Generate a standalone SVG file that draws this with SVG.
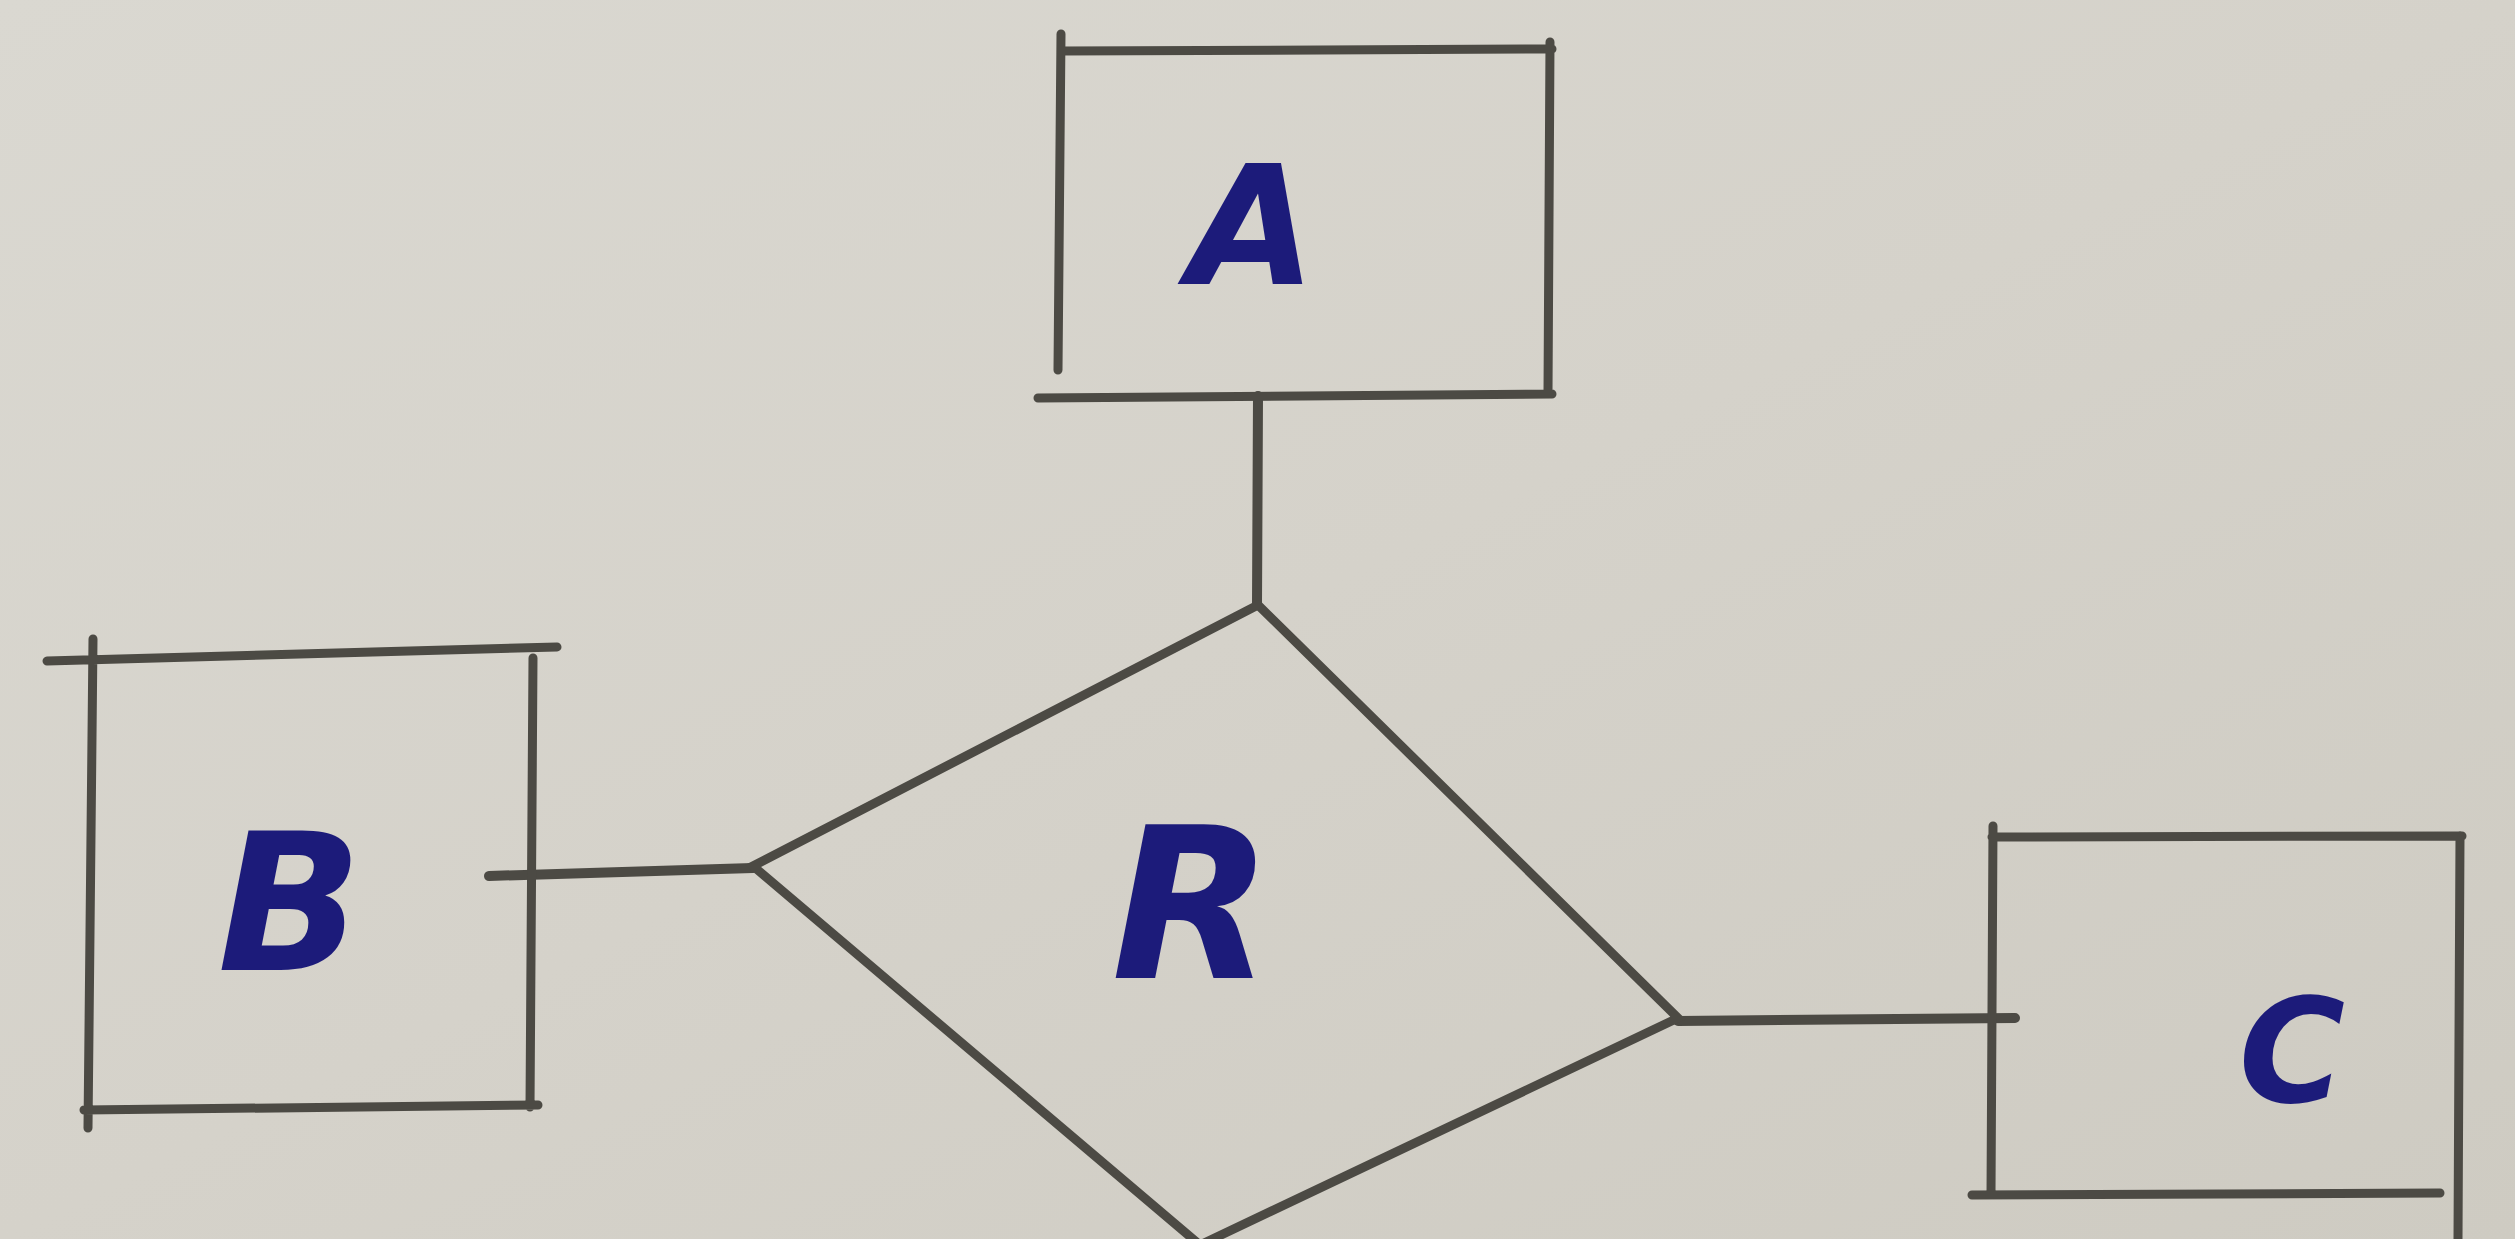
<svg xmlns="http://www.w3.org/2000/svg" width="2515" height="1239" viewBox="0 0 2515 1239">
<defs>
<linearGradient id="bg" x1="0" y1="0" x2="1" y2="1">
<stop offset="0" stop-color="#dad8d1"/>
<stop offset="0.5" stop-color="#d5d2ca"/>
<stop offset="1" stop-color="#cecbc2"/>
</linearGradient>
<style>
.ln{stroke:#4c4a44;stroke-width:9;stroke-linecap:round;fill:none}
.cn{stroke:#4c4a44;stroke-width:10;stroke-linecap:round;fill:none}
.lb{fill:#1c1b7a;font-family:"DejaVu Sans",sans-serif;font-weight:bold;font-style:italic;text-anchor:middle}
</style>
</defs>
<rect width="2515" height="1239" fill="url(#bg)"/>
<g id="connectors">
<path class="cn" d="M1258 396 L1257 605"/>
<path class="cn" d="M489 876 L753 868"/>
<path class="cn" d="M1678 1021 L2015 1018"/>
</g>
<g id="node-A">
<path class="ln" d="M1062 51 L1552 49 M1550 42 L1548 393 M1038 398 L1552 394 M1061 34 L1058 370"/>
<text class="lb" x="1252" y="284" font-size="165">A</text>
</g>
<g id="node-B">
<path class="ln" d="M47 661 L557 647 M93 639 L88 1128 M533 658 L530 1107 M84 1110 L538 1105"/>
<text class="lb" x="290" y="970" font-size="190">B</text>
</g>
<g id="node-R">
<path class="ln" d="M1258 605 L753 866 L1200 1245 M1258 605 L1678 1018 L1200 1245"/>
<text class="lb" x="1192" y="978" font-size="210">R</text>
</g>
<g id="node-C">
<path class="ln" d="M1992 837 L2462 836 M1993 826 L1991 1195 M2460 836 L2458 1239 M1972 1195 L2440 1193"/>
<text class="lb" x="2292" y="1102" font-size="145">C</text>
</g>
</svg>
